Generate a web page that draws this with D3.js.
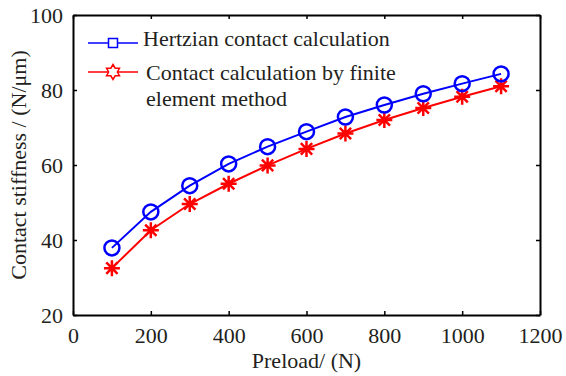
<!DOCTYPE html>
<html>
<head>
<meta charset="utf-8">
<script src="https://cdn.jsdelivr.net/npm/d3@7"></script>
<style>
  body { margin: 0; background: #fff; }
</style>
</head>
<body>
<div id="chart"></div>
<script>
// data
var preload = [100, 200, 300, 400, 500, 600, 700, 800, 900, 1000, 1100];
var hertzian = [37.9, 47.5, 54.5, 60.3, 64.9, 68.9, 72.8, 76.0, 79.0, 81.7, 84.3];
var femValues = [32.5, 42.6, 49.6, 55.0, 59.9, 64.3, 68.4, 72.0, 75.2, 78.2, 81.0];
var xTicks = [0, 200, 400, 600, 800, 1000, 1200];
var yTicks = [20, 40, 60, 80, 100];
var seriesNames = ["Hertzian contact calculation", "Contact calculation by finite", "element method"];

var fontFamily = "Liberation Serif";
var fontSize = "22px";
var textColor = "#231f20";

var width = 566, height = 376;
var margin = {left: 73, right: 26, top: 15, bottom: 61};

var svg = d3.select("#chart").append("svg")
    .attr("width", width)
    .attr("height", height);

var x = d3.scaleLinear().domain([0, 1200]).range([margin.left, width - margin.right]);
var y = d3.scaleLinear().domain([20, 100]).range([height - margin.bottom, margin.top]);

// axes with inward ticks (box on all four sides)
var axisGroup = svg.append("g");
axisGroup.append("g")
    .attr("transform", "translate(0," + y(20) + ")")
    .call(d3.axisBottom(x).tickValues(xTicks).tickFormat(d3.format("d"))
        .tickSizeInner(-4).tickSizeOuter(0).tickPadding(12));
axisGroup.append("g")
    .attr("transform", "translate(0," + y(100) + ")")
    .call(d3.axisTop(x).tickValues(xTicks).tickSizeInner(-4).tickSizeOuter(0).tickFormat(""));
axisGroup.append("g")
    .attr("transform", "translate(" + x(0) + ",0)")
    .call(d3.axisLeft(y).tickValues(yTicks).tickFormat(d3.format("d"))
        .tickSizeInner(-4).tickSizeOuter(0).tickPadding(10));
axisGroup.append("g")
    .attr("transform", "translate(" + x(1200) + ",0)")
    .call(d3.axisRight(y).tickValues(yTicks).tickSizeInner(-4).tickSizeOuter(0).tickFormat(""));

axisGroup.selectAll(".domain").attr("stroke", "#000").attr("stroke-width", 2);
axisGroup.selectAll(".tick line").attr("stroke", "#000").attr("stroke-width", 1.5);
axisGroup.selectAll(".tick text")
    .style("font-family", fontFamily)
    .style("font-size", fontSize)
    .attr("fill", textColor);

// axis titles
svg.append("text")
    .attr("x", (x(0) + x(1200)) / 2)
    .attr("y", 368)
    .attr("text-anchor", "middle")
    .style("font-family", fontFamily)
    .style("font-size", fontSize)
    .attr("fill", textColor)
    .text("Preload/ (N)");
svg.append("text")
    .attr("transform", "translate(26," + ((y(20) + y(100)) / 2) + ") rotate(-90)")
    .attr("text-anchor", "middle")
    .style("font-family", fontFamily)
    .style("font-size", fontSize)
    .attr("fill", textColor)
    .text("Contact stiffness / (N/\u03bcm)");

var line = d3.line()
    .x(function(d){ return x(d[0]); })
    .y(function(d){ return y(d[1]); });

var blueData = d3.zip(preload, hertzian);
var redData = d3.zip(preload, femValues);

// asterisk marker path
function asterisk(cx, cy, r){
    var d = "";
    [0, 45, 90, 135].forEach(function(a){
        var rad = a * Math.PI / 180;
        var dx = Math.cos(rad) * r, dy = Math.sin(rad) * r;
        d += "M" + (cx - dx) + "," + (cy - dy) + "L" + (cx + dx) + "," + (cy + dy);
    });
    return d;
}

// hexagram marker path
function hexagram(cx, cy, r){
    var pts = [];
    for (var i = 0; i < 12; i++){
        var rr = (i % 2 === 0) ? r : r * 0.58;
        var a = -Math.PI / 2 + i * Math.PI / 6;
        pts.push([cx + rr * Math.cos(a), cy + rr * Math.sin(a)]);
    }
    return "M" + pts.join("L") + "Z";
}

// red series
svg.append("path")
    .attr("d", line(redData))
    .attr("fill", "none")
    .attr("stroke", "#ff0000")
    .attr("stroke-width", 2);
svg.append("g").selectAll("path").data(redData).enter().append("path")
    .attr("d", function(d){ return asterisk(x(d[0]), y(d[1]), 8); })
    .attr("stroke", "#ff0000")
    .attr("stroke-width", 2.5)
    .attr("fill", "none");

// blue series
svg.append("path")
    .attr("d", line(blueData))
    .attr("fill", "none")
    .attr("stroke", "#0000ff")
    .attr("stroke-width", 2);
svg.append("g").selectAll("circle").data(blueData).enter().append("circle")
    .attr("cx", function(d){ return x(d[0]); })
    .attr("cy", function(d){ return y(d[1]); })
    .attr("r", 7.5)
    .attr("stroke", "#0000ff")
    .attr("stroke-width", 2.5)
    .attr("fill", "none");

// legend
var legend = svg.append("g");
legend.append("line").attr("x1", 88).attr("x2", 138).attr("y1", 43).attr("y2", 43)
    .attr("stroke", "#0000ff").attr("stroke-width", 1.5);
legend.append("rect").attr("x", 108.5).attr("y", 38.5).attr("width", 9).attr("height", 9)
    .attr("fill", "#fff").attr("stroke", "#0000ff").attr("stroke-width", 1.5);
legend.append("text").attr("x", 143).attr("y", 46)
    .style("font-family", fontFamily).style("font-size", fontSize).attr("fill", textColor)
    .text(seriesNames[0]);

legend.append("line").attr("x1", 88).attr("x2", 138).attr("y1", 72).attr("y2", 72)
    .attr("stroke", "#ff0000").attr("stroke-width", 1.5);
legend.append("path").attr("d", hexagram(113, 72, 7.5))
    .attr("fill", "#fff").attr("stroke", "#ff0000").attr("stroke-width", 1.5);
legend.append("text").attr("x", 146).attr("y", 80)
    .style("font-family", fontFamily).style("font-size", fontSize).attr("fill", textColor)
    .text(seriesNames[1]);
legend.append("text").attr("x", 146).attr("y", 106)
    .style("font-family", fontFamily).style("font-size", fontSize).attr("fill", textColor)
    .text(seriesNames[2]);
</script>
</body>
</html>
